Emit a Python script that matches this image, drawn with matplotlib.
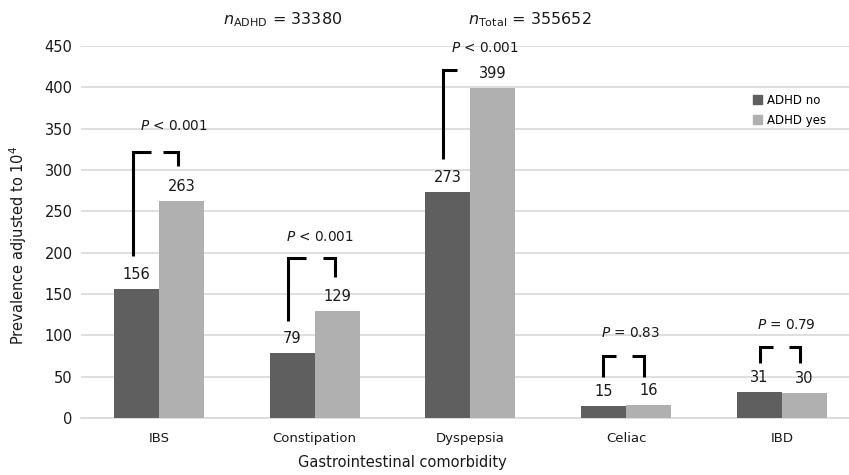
import matplotlib
matplotlib.use("Agg")
import matplotlib.pyplot as plt
from matplotlib.patches import Patch

categories = ["IBS", "Constipation", "Dyspepsia", "Celiac", "IBD"]
adhd_no = [156, 79, 273, 15, 31]
adhd_yes = [263, 129, 399, 16, 30]
p_labels = [r"$\it{P}$ < 0.001", r"$\it{P}$ < 0.001", r"$\it{P}$ < 0.001",
            r"$\it{P}$ = 0.83", r"$\it{P}$ = 0.79"]
series_names = ["ADHD no", "ADHD yes"]
yticks = [0, 50, 100, 150, 200, 250, 300, 350, 400, 450]

# bracket geometry per category: (left x0, left x1, left bottom, top, right x0, right x1, right bottom, p text y, p text dx)
brackets = [
    (-0.167, -0.051, 196, 322, 0.026, 0.122, 305, 353, 0.096),
    (-0.170, -0.055, 117, 194, 0.055, 0.132, 171, 219, 0.035),
    (-0.177, -0.087, 313, 421, None, None, None, 447, 0.095),
    (-0.148, -0.064, 50, 75, 0.039, 0.116, 50, 103, 0.025),
    (-0.141, -0.058, 66, 86, 0.045, 0.116, 66, 112, 0.025),
]

DARK = "#5f5f5f"
LIGHT = "#b0b0b0"
GRID = "#d9d9d9"

plt.rcParams['font.family'] = ['DejaVu Sans']
fig = plt.figure(figsize=(8.49, 4.75), dpi=100)
W, H = 849, 475
ax = fig.add_axes([81 / W, (H - 418) / H, (849 - 81) / W, (418 - 46) / H])

w = 0.289
x = list(range(len(categories)))
ax.bar([i - w / 2 for i in x], adhd_no, width=w, color=DARK, zorder=3)
ax.bar([i + w / 2 for i in x], adhd_yes, width=w, color=LIGHT, zorder=3)

for i in x:
    ax.annotate(str(adhd_no[i]), (i - w / 2, adhd_no[i]), xytext=(0, 5),
                textcoords="offset points", ha="center", va="bottom", fontsize=10.5, color="#1a1a1a")
    ax.annotate(str(adhd_yes[i]), (i + w / 2, adhd_yes[i]), xytext=(0, 5),
                textcoords="offset points", ha="center", va="bottom", fontsize=10.5, color="#1a1a1a")

for i, b in enumerate(brackets):
    lx0, lx1, lb, top, rx0, rx1, rb, py, pdx = b
    ax.plot([i + lx0, i + lx0, i + lx1], [lb, top, top], color="black", lw=2.2,
            solid_capstyle="butt", solid_joinstyle="miter", zorder=4)
    if rx0 is not None:
        ax.plot([i + rx0, i + rx1, i + rx1], [top, top, rb], color="black", lw=2.2,
                solid_capstyle="butt", solid_joinstyle="miter", zorder=4)
    ax.text(i + pdx, py, p_labels[i], ha="center", va="center", fontsize=9.8, color="#1a1a1a")

ax.set_xlim(-0.5, 4.43)
ax.set_ylim(0, 450)
ax.set_yticks(yticks)
ax.set_xticks(x)
ax.set_xticklabels(categories, fontsize=9.5)
ax.tick_params(axis="y", length=0, pad=6, labelsize=10.5, labelcolor="#1a1a1a")
ax.tick_params(axis="x", length=0, pad=10, labelcolor="#1a1a1a")
ax.grid(axis="y", color=GRID, lw=1.2, zorder=0)
for s in ["top", "right", "left"]:
    ax.spines[s].set_visible(False)
ax.spines["bottom"].set_color(GRID)
ax.spines["bottom"].set_linewidth(1.2)

fig.text(18 / W, 1 - 245 / H, r"Prevalence adjusted to 10$^4$", rotation=90,
         ha="center", va="center", fontsize=10.5, color="#1a1a1a")
fig.text(402 / W, 1 - 462 / H, "Gastrointestinal comorbidity", ha="center", va="center",
         fontsize=10.5, color="#1a1a1a")

fig.text(283 / W, 1 - 20 / H, r"$n_{\mathrm{ADHD}}$ = 33380", ha="center", va="center",
         fontsize=11.5, color="#1a1a1a")
fig.text(530 / W, 1 - 20 / H, r"$n_{\mathrm{Total}}$ = 355652", ha="center", va="center",
         fontsize=11.5, color="#1a1a1a")

handles = [Patch(color=DARK), Patch(color=LIGHT)]
fig.legend(handles, series_names, loc="upper left", bbox_to_anchor=(748 / W, 1 - 89 / H),
           frameon=False, fontsize=8.5, handlelength=0.8, handleheight=0.8,
           handletextpad=0.4, labelspacing=0.6, borderaxespad=0)

fig.savefig("out.png", dpi=100)
